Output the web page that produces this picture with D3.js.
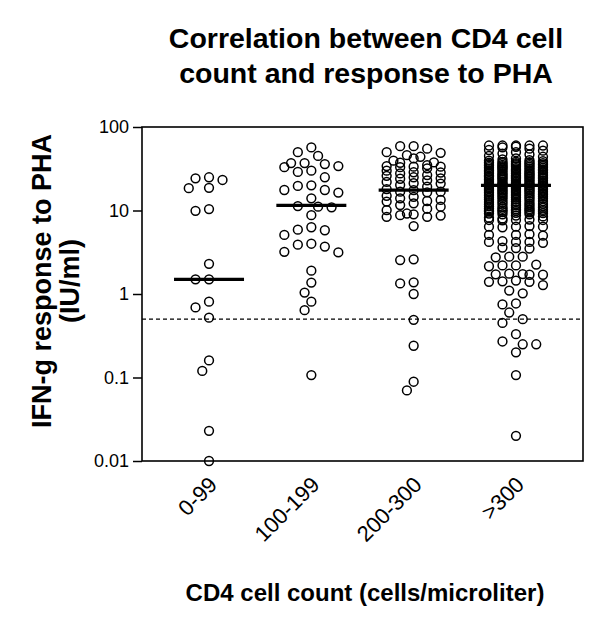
<!DOCTYPE html>
<html>
<head>
<meta charset="utf-8">
<script src="https://cdn.jsdelivr.net/npm/d3@7"></script>
<style>
  body { margin: 0; background: #fff; }
  svg { font-family: 'Liberation Sans', Arial, sans-serif; }
</style>
</head>
<body>
<div id="chart"></div>
<script>
const categories = ['0-99', '100-199', '200-300', '>300'];

const group0to99 = [25, 24.3, 23.2, 18.7, 18.5, 10.4, 9.9, 2.3, 1.5, 1.5, 0.81, 0.69, 0.52, 0.16, 0.12, 0.023, 0.01];

const group100to199 = [
  57, 50, 45, 37, 37, 36, 34, 33, 30, 29, 25, 20, 19.7, 17.6, 17.6, 16.4, 14,
  11.3, 11.1, 10.9, 8.8, 6.3, 5.9, 5.8, 5.1, 4, 3.9, 3.7, 3.2, 3.15,
  1.9, 1.37, 1.04, 0.81, 0.64, 0.107
];

const group200to300 = [
  59, 59, 55, 50, 49, 46, 44, 42, 39.5, 37.7, 37.3, 35, 33.5, 33.5, 33, 34, 32, 30,
  28.7, 28.5, 27.8, 26.6, 26, 25, 24.3, 24, 23, 22, 21.2, 21, 20.2, 19.3, 18, 17.5,
  16.8, 16.8, 16.5, 15, 14.6, 14, 13.4, 13, 12.8, 12.2, 11.6, 11.1, 10.5, 10.1,
  9.2, 9, 8.8, 8.7, 8.4, 8.4,
  6.5, 2.6, 2.55, 1.38, 1.34, 1.0, 0.49, 0.24, 0.089, 0.07
];

const groupOver300 = [
  60, 60, 60, 60, 60, 58, 57, 55, 53, 52, 50, 48, 47, 45, 44, 42, 41, 40, 39, 38,
  39.5, 38.5, 38.2, 37.5, 37, 37, 36.8, 36.5, 36, 36, 35.5, 35.2, 35, 35, 34.5,
  34, 34, 33.8, 33.5, 33, 33, 32.5, 32.2, 32, 32, 31.5, 31, 31, 30.8, 30.5,
  30, 30, 30, 29.5, 29.2, 29, 29, 28.5, 28, 28, 27.8, 27.5, 27.3, 27, 27,
  26.5, 26.2, 26, 26, 26, 25.8, 25.5, 25, 25, 25, 24.8, 24.5, 24.2, 24, 24, 24,
  23.5, 23.2, 23, 23, 22.8, 22.5, 22, 22, 22, 21.8, 21.5, 21.3, 21, 21, 21,
  20.8, 20.6, 20.5, 20.2, 20, 20, 20, 20, 19.8, 19.6, 19.5, 19.3, 19.2, 19, 19,
  18.8, 18.6, 18.5, 18.3, 18.2, 18, 18, 17.8, 17.6, 17.5, 17.3, 17.2, 17, 17,
  16.8, 16.6, 16.5, 16.3, 16.2, 16, 16, 15.8, 15.6, 15.5, 15.3, 15.2, 15, 15,
  14.8, 14.6, 14.5, 14.3, 14.2, 14, 14, 13.8, 13.6, 13.5, 13.2, 13, 13,
  12.8, 12.6, 12.5, 12.2, 12, 12, 11.9, 11.8, 11.6, 11.5, 11.3, 11.2, 11, 11,
  10.9, 10.8, 10.6, 10.5, 10.4, 10.3, 10.2, 10.1, 10, 10, 9.9, 9.8, 9.7, 9.6,
  9.5, 9.4, 9.3, 9.2, 9, 9,
  8.7, 8.5, 8.2, 8,
  7.7, 7.7, 7.6, 7.7, 7.8, 6.4, 6.4, 6.3, 6.5, 6.4, 5.1, 5.1, 5.2, 5,
  4.2, 4.2, 4.3, 4.1, 4.2, 3.55, 3.5, 3.6, 2.8, 2.8, 2.75, 2.2, 2.2, 2.15, 2.25,
  1.73, 1.7, 1.75, 1.72, 1.7, 1.4, 1.4, 1.45, 1.42, 1.28, 1.1, 1.02,
  0.77, 0.75, 0.6, 0.5, 0.45, 0.33, 0.27, 0.25, 0.25, 0.2, 0.107, 0.02
];

const groups = [group0to99, group100to199, group200to300, groupOver300];
const medians = [1.5, 11.5, 17.5, 20];
const cutoff = 0.5;

const yTicks = [0.01, 0.1, 1, 10, 100];
const yTickLabels = ['0.01', '0.1', '1', '10', '100'];

const titleLines = ['Correlation between CD4 cell', 'count and response to PHA'];
const yTitleLines = ['IFN-g response to PHA', '(IU/ml)'];
const xTitle = 'CD4 cell count (cells/microliter)';

const width = 600;
const height = 622;
const margin = { top: 127, right: 17, bottom: 161, left: 142 };

const svg = d3
  .select('#chart')
  .append('svg')
  .attr('width', width)
  .attr('height', height);

const x = d3
  .scalePoint()
  .domain(categories)
  .range([margin.left, width - margin.right])
  .padding(0.655);

const y = d3
  .scaleLog()
  .domain([0.01, 100])
  .range([height - margin.bottom, margin.top]);

const COL_STEP = 13.5;
const MIN_DIST = 10.5;
// half-column slots, nearest to the centre first
const SLOTS = [0, -0.5, 0.5, -1, 1, -1.5, 1.5, -2, 2];
const FULL_COLS = [0, -1, 1, -2, 2];

// column scatter: first slot that doesn't overlap, else the full column
// where the overlap is smallest (that's how the dense block forms)
function swarm(values) {
  const placed = [];
  const minDist = (c, py) =>
    placed.length
      ? d3.min(placed, (p) => Math.hypot((p.c - c) * COL_STEP, p.y - py))
      : Infinity;
  values
    .slice()
    .sort((a, b) => b - a)
    .forEach((v) => {
      const py = y(v);
      let slot = SLOTS.find((c) => minDist(c, py) >= MIN_DIST);
      if (slot === undefined) {
        slot = d3.greatest(FULL_COLS, (c) => {
          const same = placed.filter((p) => p.c === c);
          return same.length ? d3.min(same, (p) => Math.abs(p.y - py)) : Infinity;
        });
      }
      placed.push({ c: slot, y: py, v: v });
    });
  return placed;
}

// title
svg
  .append('g')
  .selectAll('text')
  .data(titleLines)
  .enter()
  .append('text')
  .attr('x', 366)
  .attr('y', (d, i) => 48 + i * 35)
  .attr('text-anchor', 'middle')
  .style('font-size', '28.5px')
  .style('font-weight', 'bold')
  .text((d) => d);

// y axis
const yAxis = svg
  .append('g')
  .attr('transform', `translate(${margin.left},0)`)
  .call(
    d3
      .axisLeft(y)
      .tickValues(yTicks)
      .tickFormat((d, i) => yTickLabels[i])
      .tickSize(9)
      .tickPadding(4)
  );
yAxis.select('.domain').remove();
yAxis.selectAll('line').attr('stroke-width', 1.5);
yAxis.selectAll('text').style('font-size', '18px').attr('fill', '#000');

// x axis labels
const xAxis = svg
  .append('g')
  .attr('transform', `translate(0,${height - margin.bottom})`)
  .call(d3.axisBottom(x).tickSize(0).tickPadding(0));
xAxis.select('.domain').remove();
xAxis
  .selectAll('text')
  .style('font-size', '22px')
  .attr('fill', '#000')
  .attr('text-anchor', 'end')
  .attr('dy', 0)
  .attr('y', 0)
  .attr('transform', 'translate(9,25) rotate(-45)');

// frame
svg
  .append('rect')
  .attr('x', margin.left)
  .attr('y', margin.top)
  .attr('width', width - margin.right - margin.left)
  .attr('height', height - margin.bottom - margin.top)
  .attr('fill', 'none')
  .attr('stroke', '#000')
  .attr('stroke-width', 1.6);

// cutoff line
svg
  .append('line')
  .attr('x1', margin.left)
  .attr('x2', width - margin.right)
  .attr('y1', y(cutoff))
  .attr('y2', y(cutoff))
  .attr('stroke', '#000')
  .attr('stroke-width', 1.4)
  .attr('stroke-dasharray', '4,3');

// median bars
svg
  .append('g')
  .selectAll('line')
  .data(medians)
  .enter()
  .append('line')
  .attr('x1', (d, i) => x(categories[i]) - 35)
  .attr('x2', (d, i) => x(categories[i]) + 35)
  .attr('y1', (d) => y(d))
  .attr('y2', (d) => y(d))
  .attr('stroke', '#000')
  .attr('stroke-width', 3.2);

// points (open circles)
groups.forEach((vals, gi) => {
  const cx = x(categories[gi]);
  svg
    .append('g')
    .selectAll('circle')
    .data(swarm(vals))
    .enter()
    .append('circle')
    .attr('cx', (d) => cx + d.c * COL_STEP)
    .attr('cy', (d) => d.y)
    .attr('r', 4.4)
    .attr('fill', 'none')
    .attr('stroke', '#000')
    .attr('stroke-width', 1.5);
});

// y title
svg
  .append('g')
  .attr('transform', 'translate(0,281) rotate(-90)')
  .selectAll('text')
  .data(yTitleLines)
  .enter()
  .append('text')
  .attr('x', 0)
  .attr('y', (d, i) => 51 + i * 28)
  .attr('text-anchor', 'middle')
  .style('font-size', '27px')
  .style('font-weight', 'bold')
  .text((d) => d);

// x title
svg
  .append('text')
  .attr('x', 365)
  .attr('y', 601)
  .attr('text-anchor', 'middle')
  .style('font-size', '24px')
  .style('font-weight', 'bold')
  .text(xTitle);
</script>
</body>
</html>
